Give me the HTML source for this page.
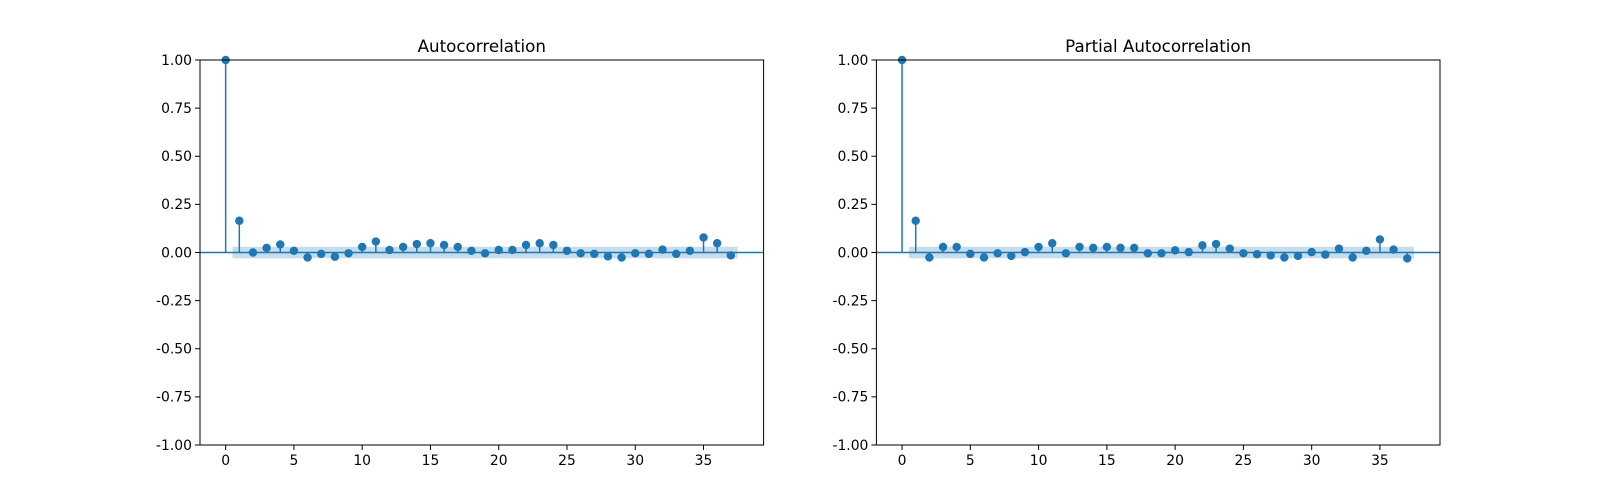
<!DOCTYPE html>
<html><head><meta charset="utf-8"><style>
body{margin:0;background:#fff;font-family:"DejaVu Sans","Liberation Sans",sans-serif}
</style></head><body>
<svg id="chart" width="1600" height="500" xmlns="http://www.w3.org/2000/svg" font-family="DejaVu Sans, Liberation Sans, sans-serif"></svg>
<script>
const acfLags=[0,1,2,3,4,5,6,7,8,9,10,11,12,13,14,15,16,17,18,19,20,21,22,23,24,25,26,27,28,29,30,31,32,33,34,35,36,37];
const acfValues=[1,0.165,0,0.024,0.042,0.009,-0.026,-0.007,-0.022,-0.004,0.029,0.057,0.013,0.029,0.044,0.048,0.039,0.029,0.009,-0.004,0.013,0.013,0.039,0.048,0.039,0.009,-0.004,-0.007,-0.02,-0.026,-0.004,-0.007,0.015,-0.007,0.009,0.078,0.048,-0.015];
const pacfValues=[1,0.165,-0.026,0.029,0.029,-0.007,-0.026,-0.004,-0.018,0.002,0.029,0.048,-0.004,0.029,0.024,0.029,0.024,0.024,-0.004,-0.004,0.011,0.002,0.037,0.044,0.02,-0.004,-0.009,-0.015,-0.026,-0.018,0.002,-0.011,0.02,-0.026,0.009,0.068,0.015,-0.031];
const confBand=[0.03];
const yTicks=[-1,-0.75,-0.5,-0.25,0,0.25,0.5,0.75,1];
const xTicks=[0,5,10,15,20,25,30,35];
const NS="http://www.w3.org/2000/svg";
const svg=document.getElementById('chart');
function mk(tag,attrs,parent){const e=document.createElementNS(NS,tag);for(const k in attrs)e.setAttribute(k,attrs[k]);(parent||svg).appendChild(e);return e;}
function panel(x0,title,vals,key){
  const W=563.6,x1=x0+W,y0=60,y1=445;
  const XMIN=-1.88,XMAX=39.4;
  const g=mk('g',{});
  
  
  const xs=v=>x0+(v-XMIN)/(XMAX-XMIN)*W;
  const ys=v=>y0+(1-v)/2*(y1-y0);
  const band=mk('rect',{x:xs(0.5),y:ys(confBand[0]),width:xs(37.5)-xs(0.5),height:ys(-confBand[0])-ys(confBand[0]),fill:'#1f77b4','fill-opacity':0.25},g);
  
  
  mk('line',{x1:x0,x2:x1,y1:ys(0),y2:ys(0),stroke:'#1f77b4','stroke-width':1.5},g);
  acfLags.forEach((l,i)=>{
    const ln=mk('line',{x1:xs(l),x2:xs(l),y1:ys(0),y2:ys(vals[i]),stroke:'#1f77b4','stroke-width':1.5},g);
    
    
    const c=mk('circle',{cx:xs(l),cy:ys(vals[i]),r:4.2,fill:'#1f77b4'},g);
    
    
  });
  mk('rect',{x:x0,y:y0,width:W,height:y1-y0,fill:'none',stroke:'#000','stroke-width':1},g);
  yTicks.forEach(t=>{
    const y=ys(t);
    mk('line',{x1:x0-5,x2:x0,y1:y,y2:y,stroke:'#000'},g);
    const tx=mk('text',{x:x0-8,y:y+4.8,'text-anchor':'end','font-size':13.9},g);
    tx.textContent=t.toFixed(2);
    
    
  });
  xTicks.forEach(t=>{
    const x=xs(t);
    mk('line',{x1:x,x2:x,y1:y1,y2:y1+5,stroke:'#000'},g);
    const tx=mk('text',{x:x,y:y1+20,'text-anchor':'middle','font-size':13.9},g);
    tx.textContent=t;
    
    
  });
  const tt=mk('text',{x:(x0+x1)/2,y:y0-8,'text-anchor':'middle','font-size':16.7},g);
  tt.textContent=title;
  
  
}
panel(200,'Autocorrelation',acfValues,'acf');
panel(876.4,'Partial Autocorrelation',pacfValues,'pacf');
</script>
</body></html>
